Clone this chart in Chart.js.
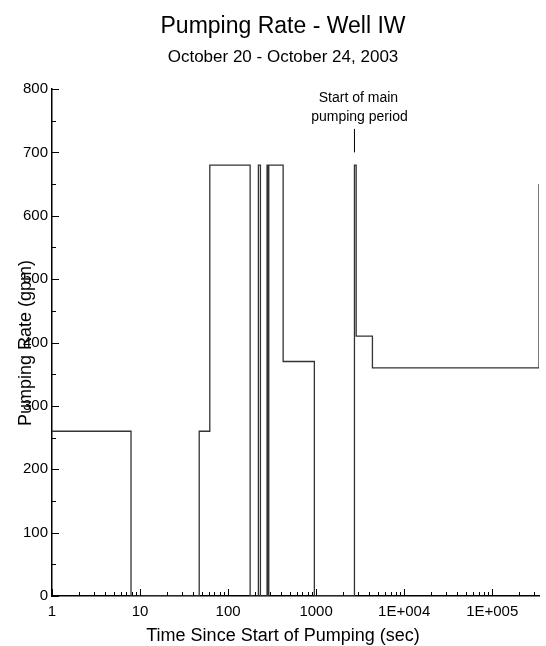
<!DOCTYPE html>
<html>
<head>
<script src="https://cdn.jsdelivr.net/npm/chart.js@4"></script>
<style>
  body { margin: 0; background: #fff; }
  #wrap { width: 546px; height: 646px; }
</style>
</head>
<body>
<div id="wrap"><canvas id="rateChart" width="546" height="646"></canvas></div>
<script>
// step start times (sec) and pumping rate (gpm) from that time on
const stepTimes = [1, 7.9, 47, 62, 178, 221, 233, 277, 284, 290, 422, 955, 2725, 2850, 4360, 340000];
const stepRates = [260, 0, 260, 680, 0, 680, 0, 680, 0, 680, 370, 0, 680, 410, 360, 650];
const xTickLabels = ['1', '10', '100', '1000', '1E+004', '1E+005'];
const yTicks = [0, 100, 200, 300, 400, 500, 600, 700, 800];
const markerTime = 2725;

const FONT = 'Liberation Sans, Arial, sans-serif';

const points = stepTimes.map((t, i) => ({ x: t, y: stepRates[i] }));

const decor = {
  id: 'decor',
  afterDraw(chart) {
    const ctx = chart.ctx;
    const xs = chart.scales.x, ys = chart.scales.y;
    const area = chart.chartArea;
    ctx.save();
    ctx.fillStyle = '#000';
    ctx.strokeStyle = '#000';
    ctx.textAlign = 'center';
    ctx.textBaseline = 'alphabetic';
    ctx.font = '23px ' + FONT;
    ctx.fillText('Pumping Rate - Well IW', 283, 33);
    ctx.font = '17px ' + FONT;
    ctx.fillText('October 20 - October 24, 2003', 283, 62);
    ctx.font = '18px ' + FONT;
    ctx.fillText('Time Since Start of Pumping (sec)', 283, 641);
    ctx.save();
    ctx.translate(31, 343);
    ctx.rotate(-Math.PI / 2);
    ctx.fillText('Pumping Rate (gpm)', 0, 0);
    ctx.restore();
    // inward ticks
    ctx.lineWidth = 1;
    ctx.beginPath();
    for (let v = 0; v <= 800; v += 50) {
      const y = Math.round(ys.getPixelForValue(v)) + 0.5;
      ctx.moveTo(area.left, y);
      ctx.lineTo(area.left + (v % 100 === 0 ? 7 : 4), y);
    }
    for (let d = 1; d <= 100000; d *= 10) {
      for (let m = 1; m <= 9; m++) {
        const v = d * m;
        if (v > xs.max) break;
        const x = Math.round(xs.getPixelForValue(v)) + 0.5;
        ctx.moveTo(x, area.bottom);
        ctx.lineTo(x, area.bottom - (m === 1 ? 7 : 4));
      }
    }
    ctx.stroke();
    // annotation
    const mx = xs.getPixelForValue(markerTime);
    ctx.beginPath();
    ctx.moveTo(mx, ys.getPixelForValue(700));
    ctx.lineTo(mx, ys.getPixelForValue(737));
    ctx.stroke();
    ctx.font = '14px ' + FONT;
    ctx.fillText('Start of main', mx + 4, 102);
    ctx.fillText('pumping period', mx + 5, 121);
    ctx.restore();
  }
};

new Chart(document.getElementById('rateChart'), {
  type: 'scatter',
  data: {
    datasets: [{
      data: points,
      showLine: true,
      stepped: 'before',
      borderColor: '#333',
      borderWidth: 1.3,
      pointRadius: 0,
      fill: false
    }]
  },
  options: {
    responsive: false,
    animation: false,
    layout: { padding: { top: 89, right: 7, bottom: 0, left: 0 } },
    plugins: { legend: { display: false }, tooltip: { enabled: false } },
    scales: {
      x: {
        type: 'logarithmic',
        min: 1, max: 340000,
        afterFit(s) { s.height = 50; },
        afterBuildTicks(s) {
          s.ticks = xTickLabels.map((l, i) => ({ value: Math.pow(10, i) }));
        },
        grid: { display: false, drawTicks: false },
        border: { color: '#000', width: 1.5 },
        ticks: {
          color: '#000', font: { family: FONT, size: 15 }, padding: 7,
          maxRotation: 0, autoSkip: false,
          callback: (v, i) => xTickLabels[i]
        }
      },
      y: {
        min: 0, max: 800,
        afterFit(s) { s.width = 52; },
        afterBuildTicks(s) { s.ticks = yTicks.map(v => ({ value: v })); },
        grid: { display: false, drawTicks: false },
        border: { color: '#000', width: 1.5 },
        ticks: { color: '#000', font: { family: FONT, size: 15 }, padding: 4 }
      }
    }
  },
  plugins: [decor]
});
</script>
</body>
</html>
